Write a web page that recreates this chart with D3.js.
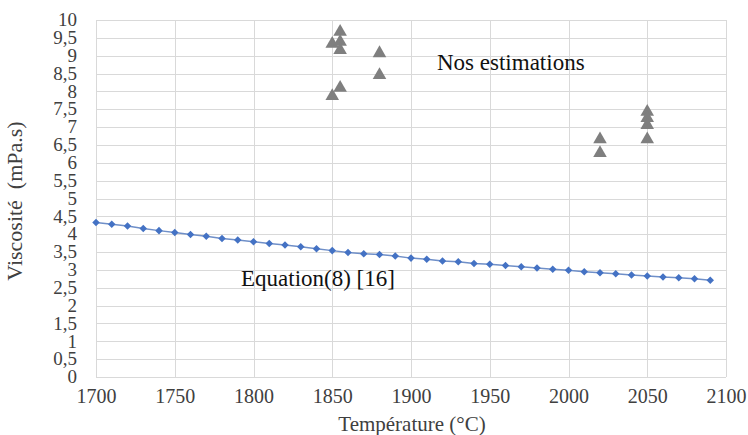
<!DOCTYPE html>
<html>
<head>
<meta charset="utf-8">
<script src="https://cdn.jsdelivr.net/npm/d3@7"></script>
<style>
  body { margin: 0; background: #fff; }
  text { font-family: "Liberation Serif", "Times New Roman", serif; }
</style>
</head>
<body>
<script>
// equation (8) curve, every 10 °C
var eqTemps = [1700, 1710, 1720, 1730, 1740, 1750, 1760, 1770, 1780, 1790,
               1800, 1810, 1820, 1830, 1840, 1850, 1860, 1870, 1880, 1890,
               1900, 1910, 1920, 1930, 1940, 1950, 1960, 1970, 1980, 1990,
               2000, 2010, 2020, 2030, 2040, 2050, 2060, 2070, 2080, 2090];
var eqVisc = [4.33, 4.28, 4.23, 4.16, 4.10, 4.05, 3.99, 3.94, 3.88, 3.84,
              3.79, 3.74, 3.70, 3.65, 3.59, 3.54, 3.49, 3.45, 3.43, 3.39,
              3.33, 3.30, 3.25, 3.23, 3.18, 3.16, 3.12, 3.09, 3.05, 3.02,
              2.99, 2.95, 2.92, 2.89, 2.86, 2.83, 2.80, 2.78, 2.75, 2.71];

// our estimations
var estTemps = [1850, 1850, 1855, 1855, 1855, 1855, 1880, 1880, 2020, 2020, 2050, 2050, 2050, 2050];
var estVisc  = [9.33, 7.87, 9.67, 9.39, 9.16, 8.10, 9.07, 8.46, 6.66, 6.27, 7.43, 7.25, 7.06, 6.66];

var xTicks = [1700, 1750, 1800, 1850, 1900, 1950, 2000, 2050, 2100];
var yTicks = d3.range(0, 10.01, 0.5);

var width = 748, height = 435;
// plot box (note: "top" is reserved on window, so prefixed names)
var plotLeft = 96, plotRight = 726, plotTop = 20, plotBottom = 377;

var svg = d3.select("body").append("svg")
    .attr("width", width)
    .attr("height", height);

var x = d3.scaleLinear().domain([1700, 2100]).range([plotLeft, plotRight]);
var y = d3.scaleLinear().domain([0, 10]).range([plotBottom, plotTop]);

// gridlines
svg.append("g")
    .selectAll("line")
    .data(yTicks)
    .enter().append("line")
    .attr("x1", plotLeft).attr("x2", plotRight)
    .attr("y1", function (d) { return Math.round(y(d)) + 0.5; })
    .attr("y2", function (d) { return Math.round(y(d)) + 0.5; })
    .style("stroke", "#d9d9d9");

svg.append("g")
    .selectAll("line")
    .data(xTicks)
    .enter().append("line")
    .attr("y1", plotTop).attr("y2", plotBottom)
    .attr("x1", function (d) { return Math.round(x(d)) + 0.5; })
    .attr("x2", function (d) { return Math.round(x(d)) + 0.5; })
    .style("stroke", "#d9d9d9");

// axes (labels only)
var fmt = function (d) { return String(d).replace(".", ","); };

var yAxis = svg.append("g")
    .attr("transform", "translate(" + (plotLeft - 19) + ",0)")
    .call(d3.axisLeft(y).tickValues(yTicks).tickFormat(fmt).tickSize(0).tickPadding(0));
yAxis.select(".domain").remove();
yAxis.selectAll("text")
    .style("font-family", "Liberation Serif")
    .style("font-size", "19px")
    .attr("dy", "0.3em")
    .style("fill", "#404040");

var xAxis = svg.append("g")
    .attr("transform", "translate(0," + plotBottom + ")")
    .call(d3.axisBottom(x).tickValues(xTicks).tickFormat(d3.format("d")).tickSize(0).tickPadding(12));
xAxis.select(".domain").remove();
xAxis.selectAll("text")
    .style("font-family", "Liberation Serif")
    .style("font-size", "20px")
    .style("fill", "#404040");

// axis titles
svg.append("text")
    .attr("transform", "translate(22,201) rotate(-90)")
    .attr("text-anchor", "middle")
    .style("font-size", "22px")
    .style("fill", "#404040")
    .style("white-space", "pre")
    .text("Viscosité  (mPa.s)");

svg.append("text")
    .attr("x", 412)
    .attr("y", 431)
    .attr("text-anchor", "middle")
    .style("font-size", "21px")
    .style("fill", "#404040")
    .text("Température (°C)");

// equation line
var eqData = eqTemps.map(function (t, i) { return [t, eqVisc[i]]; });
var line = d3.line()
    .x(function (d) { return x(d[0]); })
    .y(function (d) { return y(d[1]); });

svg.append("path")
    .datum(eqData)
    .attr("d", line)
    .style("fill", "none")
    .style("stroke", "#6f8fc8")
    .style("stroke-width", 1.5);

svg.append("g")
    .selectAll("path")
    .data(eqData)
    .enter().append("path")
    .attr("d", d3.symbol().type(d3.symbolDiamond2).size(36))
    .attr("transform", function (d) { return "translate(" + x(d[0]) + "," + y(d[1]) + ")"; })
    .style("fill", "#4472c4");

// estimation triangles
var estData = estTemps.map(function (t, i) { return [t, estVisc[i]]; });
svg.append("g")
    .selectAll("path")
    .data(estData)
    .enter().append("path")
    .attr("d", d3.symbol().type(d3.symbolTriangle).size(80))
    .attr("transform", function (d) { return "translate(" + x(d[0]) + "," + y(d[1]) + ")"; })
    .style("fill", "#7f7f7f");

// annotations
svg.append("text")
    .attr("x", 437)
    .attr("y", 70)
    .style("font-size", "23px")
    .style("fill", "#111")
    .text("Nos estimations");

svg.append("text")
    .attr("x", 241)
    .attr("y", 286)
    .style("font-size", "23px")
    .style("fill", "#111")
    .text("Equation(8) [16]");
</script>
</body>
</html>
